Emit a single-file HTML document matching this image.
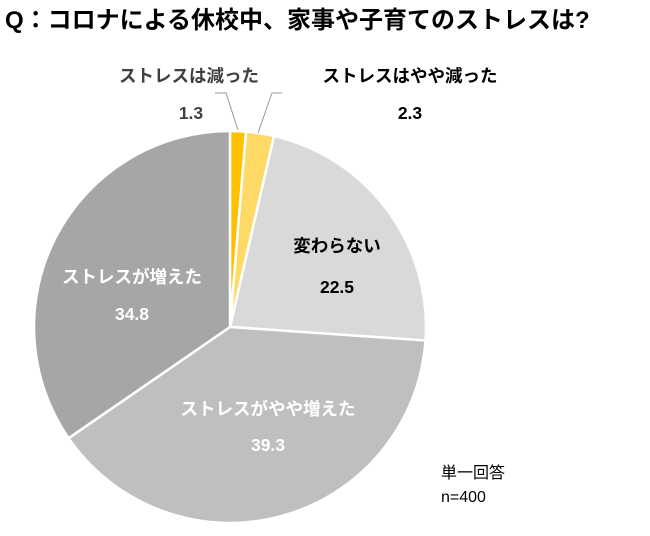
<!DOCTYPE html>
<html><head><meta charset="utf-8"><style>
body{margin:0;background:#fff;width:650px;height:531px;overflow:hidden}
</style></head><body>
<svg width="650" height="531" xmlns="http://www.w3.org/2000/svg" font-family="Liberation Sans, Noto Sans CJK JP, sans-serif" font-weight="bold">
<text x="5" y="28" font-size="24" fill="#000">Q：コロナによる休校中、家事や子育てのストレスは?</text>
<g stroke="#fff" stroke-width="2.5" stroke-linejoin="round">
<path d="M230,327 L230,131 A196,196 0 0 1 246.0,131.6 Z" fill="#ffc000"/>
<path d="M230,327 L246.0,131.6 A196,196 0 0 1 274.0,136.0 Z" fill="#ffd966"/>
<path d="M230,327 L274.0,136.0 A196,196 0 0 1 425.5,340.5 Z" fill="#d9d9d9"/>
<path d="M230,327 L425.5,340.5 A196,196 0 0 1 68.6,438.2 Z" fill="#bfbfbf"/>
<path d="M230,327 L68.6,438.2 A196,196 0 0 1 230,131 Z" fill="#a6a6a6"/>
</g>
<g stroke="#999" stroke-width="1" fill="none">
<polyline points="215,93 226,93 238,130"/>
<polyline points="282,93 272,93 258,133"/>
</g>
<g font-size="17.5" text-anchor="middle">
<text x="189" y="82" fill="#404040">ストレスは減った</text>
<text x="191" y="119" fill="#404040">1.3</text>
<text x="410" y="82" fill="#000">ストレスはやや減った</text>
<text x="410" y="119" fill="#000">2.3</text>
<text x="337" y="252" fill="#000">変わらない</text>
<text x="337" y="293" fill="#000">22.5</text>
<text x="268" y="415" fill="#fff">ストレスがやや増えた</text>
<text x="268" y="451" fill="#fff">39.3</text>
<text x="132" y="283" fill="#fff">ストレスが増えた</text>
<text x="132" y="320" fill="#fff">34.8</text>
</g>
<g font-size="16" font-weight="normal" fill="#000">
<text x="441" y="478">単一回答</text>
<text x="441" y="502">n=400</text>
</g>
</svg>
</body></html>
